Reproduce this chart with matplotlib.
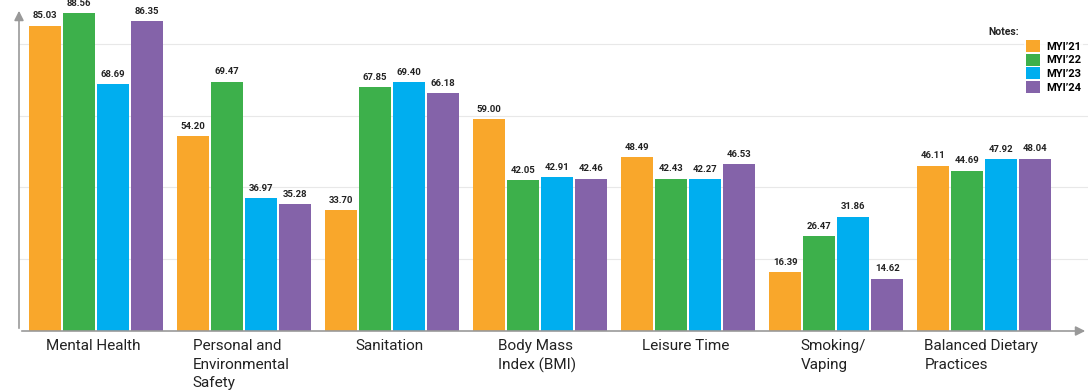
import matplotlib.pyplot as plt
import numpy as np
from matplotlib.patches import Patch

plt.rcParams['font.family'] = ['Roboto', 'DejaVu Sans']

categories = ["Mental Health", "Personal and\nEnvironmental\nSafety", "Sanitation",
              "Body Mass\nIndex (BMI)", "Leisure Time", "Smoking/\nVaping",
              "Balanced Dietary\nPractices"]
series = ["MYI\u201921", "MYI\u201922", "MYI\u201923", "MYI\u201924"]
myi21 = [85.03, 54.20, 33.70, 59.00, 48.49, 16.39, 46.11]
myi22 = [88.56, 69.47, 67.85, 42.05, 42.43, 26.47, 44.69]
myi23 = [68.69, 36.97, 69.40, 42.91, 42.27, 31.86, 47.92]
myi24 = [86.35, 35.28, 66.18, 42.46, 46.53, 14.62, 48.04]
colors = ["#F9A72B", "#3DB04B", "#00AEEF", "#8463A9"]

fig = plt.figure(figsize=(10.9, 3.91), dpi=100)
ax = fig.add_axes([19/1090, 1 - 331/391, 1088/1090 - 19/1090, (331 - 8)/391])

x = np.arange(len(categories))
bw = 0.216
pitch = 0.23
data = [myi21, myi22, myi23, myi24]
for i, vals in enumerate(data):
    pos = x + (i - 1.5) * pitch
    ax.bar(pos, vals, bw, color=colors[i], label=series[i], zorder=3)
    for p, v in zip(pos, vals):
        ax.text(p, v + 1.5, f"{v:.2f}", ha='center', va='bottom',
                fontsize=6.8, fontweight='bold', color='#222222', zorder=4)

ax.set_xlim(-0.52, 6.70)
ax.set_ylim(0, 90)
ax.set_yticks([20, 40, 60, 80])
ax.set_yticklabels([])
ax.tick_params(left=False, bottom=False)
ax.grid(axis='y', color='#e8e8e8', linewidth=0.8, zorder=0)
ax.set_xticks(x)
ax.set_xticklabels([])
for xi, lab in zip(x, categories):
    ax.text(xi - 0.02, -2.3, lab, ha='center', va='top', multialignment='left',
            fontsize=11, color='#222222', linespacing=1.4)

for s in ax.spines.values():
    s.set_visible(False)
ax.annotate('', xy=(0, 1.0), xytext=(0, 0), xycoords='axes fraction',
            arrowprops=dict(arrowstyle='-|>', color='#999999', lw=1.2,
                            mutation_scale=14), annotation_clip=False)
ax.annotate('', xy=(1.0, 0), xytext=(0, 0), xycoords='axes fraction',
            arrowprops=dict(arrowstyle='-|>', color='#999999', lw=1.2,
                            mutation_scale=14), annotation_clip=False)

handles = [Patch(facecolor=c, label=s) for c, s in zip(colors, series)]
leg = ax.legend(handles=handles, loc='upper left', bbox_to_anchor=(1018/1090, 1 - 32/391),
                bbox_transform=fig.transFigure, frameon=True, fontsize=8,
                handlelength=1.3, handleheight=1.3, handletextpad=0.5,
                labelspacing=0.15, borderpad=0.2)
leg.get_frame().set_facecolor('white')
leg.get_frame().set_edgecolor('none')
for t in leg.get_texts():
    t.set_fontweight('bold')
fig.text(988/1090, 1 - 32/391, "Notes:", fontsize=7.5, fontweight='bold',
         color='#222222', ha='left', va='center')

fig.savefig("out.png", dpi=100)
